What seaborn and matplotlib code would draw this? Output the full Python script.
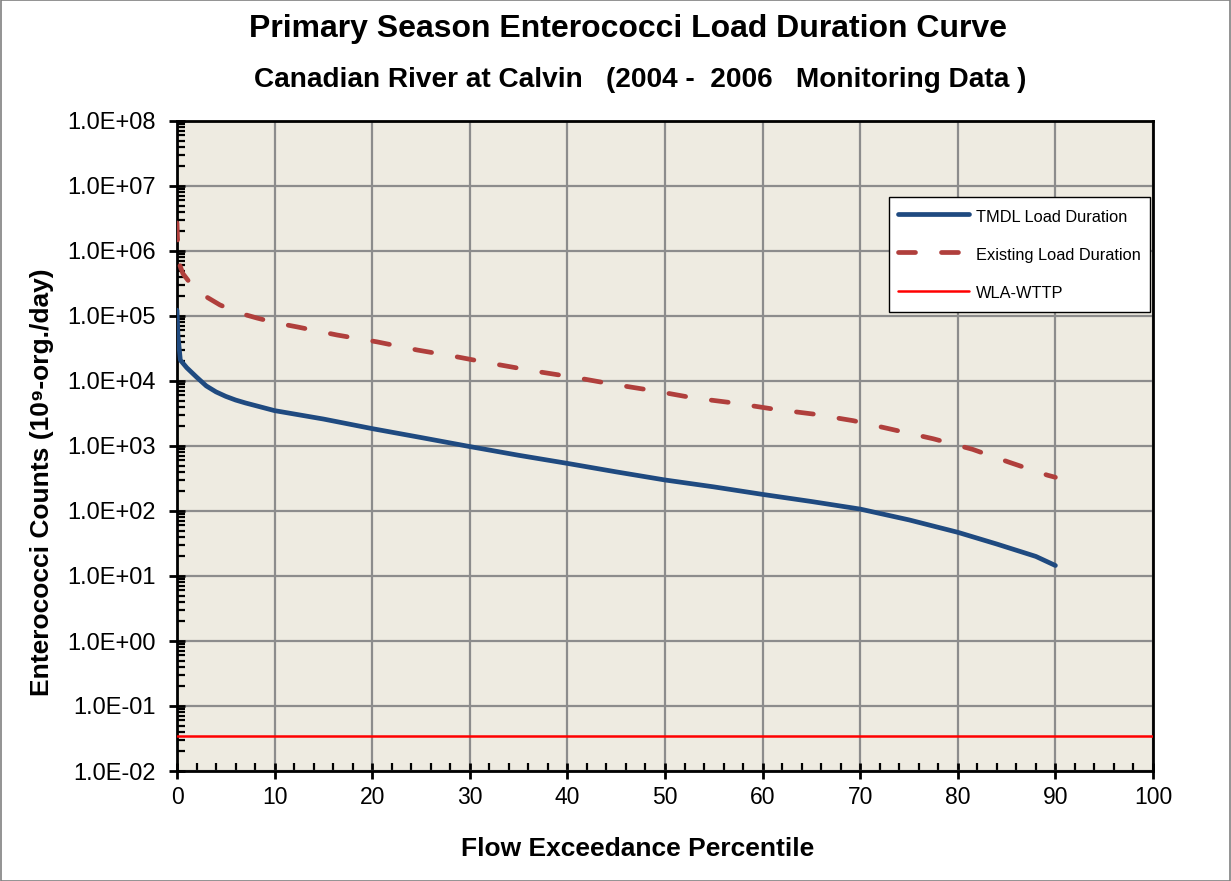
import numpy as np
import pandas as pd
import matplotlib
matplotlib.use("Agg")
import matplotlib.pyplot as plt
import matplotlib.ticker as mticker
import seaborn as sns

# ---- data ----
tmdl_x = [0, 0.1, 0.34, 1.0, 2, 3, 4, 5, 6, 7, 8, 10, 15, 20, 25, 30, 35, 40, 45,
          50, 55, 60, 65, 70, 75, 80, 84, 88, 90]
tmdl_y = [1.23e5, 5.0e4, 2.1e4, 1.6e4, 1.15e4, 8.4e3, 6.8e3, 5.8e3, 5.1e3, 4.6e3,
          4.2e3, 3.5e3, 2.6e3, 1.85e3, 1.35e3, 9.8e2, 7.2e2, 5.4e2, 4.0e2, 3.0e2,
          2.35e2, 1.8e2, 1.4e2, 1.07e2, 7.3e1, 4.7e1, 3.1e1, 2.0e1, 1.45e1]

exist_x = [0, 0.05, 0.2, 0.6, 1.15, 2, 2.7, 4.4, 6.3, 8.2, 10.2, 12.3, 16.4, 20.5,
           24.6, 28.7, 32.8, 36.9, 41, 44.7, 48.8, 52.9, 57, 61.1, 65.2, 69.3,
           73.4, 77.5, 81.5, 85.3, 89.2, 90]
exist_y = [2.7e6, 1.6e6, 6.6e5, 4.5e5, 3.5e5, 2.6e5, 2.1e5, 1.48e5, 1.12e5, 9.3e4,
           7.8e4, 6.8e4, 5.1e4, 4.0e4, 3.0e4, 2.35e4, 1.8e4, 1.4e4, 1.12e4, 8.9e3,
           7.1e3, 5.5e3, 4.6e3, 3.7e3, 3.1e3, 2.45e3, 1.78e3, 1.29e3, 8.9e2, 5.6e2,
           3.55e2, 3.3e2]

wla_x = [0, 100]
wla_y = [0.035, 0.035]

labels = ["TMDL Load Duration", "Existing Load Duration", "WLA-WTTP"]
title = "Primary Season Enterococci Load Duration Curve"
subtitle = "Canadian River at Calvin   (2004 -  2006   Monitoring Data )"
xlabel = "Flow Exceedance Percentile"
ylabel = "Enterococci Counts (10⁹-org./day)"

# ---- style ----
sns.set_style("white")
plt.rcParams["font.family"] = ["Liberation Sans", "DejaVu Sans"]
plt.rcParams["text.color"] = "black"
plt.rcParams["axes.labelcolor"] = "black"
plt.rcParams["xtick.color"] = "black"
plt.rcParams["ytick.color"] = "black"

fig = plt.figure(figsize=(12.31, 8.81), dpi=100)
ax = fig.add_axes([177 / 1231, 1 - 771 / 881, 976 / 1231, 650 / 881])
ax.set_facecolor("#EEEBE1")

df_t = pd.DataFrame({"x": tmdl_x, "y": tmdl_y})
df_e = pd.DataFrame({"x": exist_x, "y": exist_y})
df_w = pd.DataFrame({"x": wla_x, "y": wla_y})

sns.lineplot(data=df_t, x="x", y="y", ax=ax, color="#1F4A80", lw=3.4,
             label=labels[0], zorder=4, solid_capstyle="round", solid_joinstyle="round")
sns.lineplot(data=df_e, x="x", y="y", ax=ax, color="#B03F3C", lw=3.4,
             label=labels[1], zorder=4, dashes=(3.6, 5.5), dash_capstyle="round")
sns.lineplot(data=df_w, x="x", y="y", ax=ax, color="#FF0000", lw=1.8,
             label=labels[2], zorder=4)

ax.set_yscale("log")
ax.set_xlim(0, 100)
ax.set_ylim(1e-2, 1e8)

ax.xaxis.set_major_locator(mticker.MultipleLocator(10))
ax.xaxis.set_minor_locator(mticker.MultipleLocator(2))
ax.yaxis.set_major_locator(mticker.LogLocator(base=10, numticks=20))
ax.yaxis.set_minor_locator(mticker.LogLocator(base=10, subs=np.arange(2, 10), numticks=20))
ax.yaxis.set_minor_formatter(mticker.NullFormatter())
ax.yaxis.set_major_formatter(mticker.FuncFormatter(lambda v, p: f"{v:.1E}"))

ax.grid(True, which="major", color="#8C8C8C", lw=1.6, zorder=1)
ax.set_axisbelow(True)

for s in ax.spines.values():
    s.set_visible(True)
    s.set_color("black")
    s.set_linewidth(2.0)

ax.tick_params(axis="both", which="major", direction="inout", length=11, width=2,
               color="black", labelsize=16.5, left=True, bottom=True)
ax.tick_params(axis="y", which="major", labelsize=17, pad=9.5)
ax.tick_params(axis="x", which="major", pad=5)
ax.tick_params(axis="both", which="minor", direction="in", length=6, width=1.6,
               color="black", left=True, bottom=True)

ax.set_xlabel(xlabel, fontsize=19, fontweight="bold")
ax.set_ylabel(ylabel, fontsize=19, fontweight="bold")
ax.xaxis.set_label_coords((638 - 177) / 976, -(837 - 771) / 650)
ax.yaxis.set_label_coords(-(177 - 54) / 976, 1 - (482 - 121) / 650)

fig.text(628 / 1231, 1 - 29 / 881, title, ha="center", va="center",
         fontsize=23, fontweight="bold")
fig.text(640 / 1231, 1 - 80 / 881, subtitle, ha="center", va="center",
         fontsize=20.2, fontweight="bold")

leg = ax.legend(loc="upper left", bbox_to_anchor=((889 - 177) / 976, 1 - (197 - 121) / 650),
                borderaxespad=0, fontsize=11.8, frameon=True, fancybox=False,
                handlelength=4.3, handleheight=1.45, labelspacing=1.15, borderpad=0.57,
                handletextpad=0.45)
leg.get_frame().set_edgecolor("black")
leg.get_frame().set_linewidth(1.0)
leg.get_frame().set_facecolor("white")
leg.get_frame().set_alpha(1)

fig.patches.append(plt.Rectangle((0.0005, 0.0005), 0.999, 0.999, transform=fig.transFigure,
                                 fill=False, edgecolor="#808080", lw=1.2))

fig.savefig("out.png", dpi=100, facecolor="white")
